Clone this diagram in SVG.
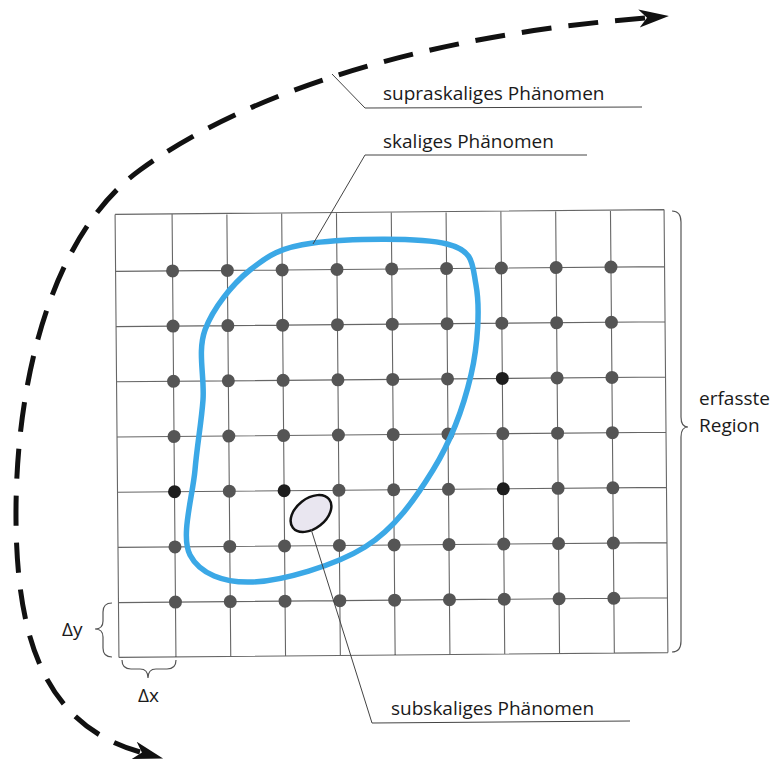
<svg xmlns="http://www.w3.org/2000/svg" width="774" height="766" viewBox="0 0 774 766">
<style>
.grid{fill:none;stroke:#666;stroke-width:1.1}
.dot{fill:#555}
.dk{fill:#1e1e1e}
.lbl{font-family:"Open Sans","Noto Sans",sans-serif;font-size:19px;fill:#1a1a1a}
.lead{fill:none;stroke:#444;stroke-width:1}
.brace{fill:none;stroke:#555;stroke-width:1.2}
</style>
<defs>
<marker id="arr" markerUnits="userSpaceOnUse" markerWidth="40" markerHeight="30" refX="6" refY="9" orient="auto-start-reverse">
<path d="M0,0 L30,9 L0,18 L8,9 z" fill="#111"/>
</marker>
</defs>
<rect width="774" height="766" fill="#fff"/>
<g id="grid" transform="rotate(-0.5 391 433)">
<path class="grid" d="M117,212V655M174,212V655M228.8,212V655M283.6,212V655M338.4,212V655M393.2,212V655M448,212V655M502.8,212V655M557.6,212V655M612.4,212V655M666,212V655M117,212H666M117,269H666M117,324.2H666M117,379.4H666M117,434.6H666M117,489.8H666M117,545H666M117,600.2H666M117,655H666"/>
<g id="dots">
<circle class="dot" cx="174" cy="269" r="6.5"/><circle class="dot" cx="228.8" cy="269" r="6.5"/><circle class="dot" cx="283.6" cy="269" r="6.5"/><circle class="dot" cx="338.4" cy="269" r="6.5"/><circle class="dot" cx="393.2" cy="269" r="6.5"/><circle class="dot" cx="448" cy="269" r="6.5"/><circle class="dot" cx="502.8" cy="269" r="6.5"/><circle class="dot" cx="557.6" cy="269" r="6.5"/><circle class="dot" cx="612.4" cy="269" r="6.5"/>
<circle class="dot" cx="174" cy="324.2" r="6.5"/><circle class="dot" cx="228.8" cy="324.2" r="6.5"/><circle class="dot" cx="283.6" cy="324.2" r="6.5"/><circle class="dot" cx="338.4" cy="324.2" r="6.5"/><circle class="dot" cx="393.2" cy="324.2" r="6.5"/><circle class="dot" cx="448" cy="324.2" r="6.5"/><circle class="dot" cx="502.8" cy="324.2" r="6.5"/><circle class="dot" cx="557.6" cy="324.2" r="6.5"/><circle class="dot" cx="612.4" cy="324.2" r="6.5"/>
<circle class="dot" cx="174" cy="379.4" r="6.5"/><circle class="dot" cx="228.8" cy="379.4" r="6.5"/><circle class="dot" cx="283.6" cy="379.4" r="6.5"/><circle class="dot" cx="338.4" cy="379.4" r="6.5"/><circle class="dot" cx="393.2" cy="379.4" r="6.5"/><circle class="dot" cx="448" cy="379.4" r="6.5"/><circle class="dk" cx="502.8" cy="379.4" r="6.5"/><circle class="dot" cx="557.6" cy="379.4" r="6.5"/><circle class="dot" cx="612.4" cy="379.4" r="6.5"/>
<circle class="dot" cx="174" cy="434.6" r="6.5"/><circle class="dot" cx="228.8" cy="434.6" r="6.5"/><circle class="dot" cx="283.6" cy="434.6" r="6.5"/><circle class="dot" cx="338.4" cy="434.6" r="6.5"/><circle class="dot" cx="393.2" cy="434.6" r="6.5"/><circle class="dot" cx="448" cy="434.6" r="6.5"/><circle class="dot" cx="502.8" cy="434.6" r="6.5"/><circle class="dot" cx="557.6" cy="434.6" r="6.5"/><circle class="dot" cx="612.4" cy="434.6" r="6.5"/>
<circle class="dk" cx="174" cy="489.8" r="6.5"/><circle class="dot" cx="228.8" cy="489.8" r="6.5"/><circle class="dk" cx="283.6" cy="489.8" r="6.5"/><circle class="dot" cx="338.4" cy="489.8" r="6.5"/><circle class="dot" cx="393.2" cy="489.8" r="6.5"/><circle class="dot" cx="448" cy="489.8" r="6.5"/><circle class="dk" cx="502.8" cy="489.8" r="6.5"/><circle class="dot" cx="557.6" cy="489.8" r="6.5"/><circle class="dot" cx="612.4" cy="489.8" r="6.5"/>
<circle class="dot" cx="174" cy="545" r="6.5"/><circle class="dot" cx="228.8" cy="545" r="6.5"/><circle class="dot" cx="283.6" cy="545" r="6.5"/><circle class="dot" cx="338.4" cy="545" r="6.5"/><circle class="dot" cx="393.2" cy="545" r="6.5"/><circle class="dot" cx="448" cy="545" r="6.5"/><circle class="dot" cx="502.8" cy="545" r="6.5"/><circle class="dot" cx="557.6" cy="545" r="6.5"/><circle class="dot" cx="612.4" cy="545" r="6.5"/>
<circle class="dot" cx="174" cy="600.2" r="6.5"/><circle class="dot" cx="228.8" cy="600.2" r="6.5"/><circle class="dot" cx="283.6" cy="600.2" r="6.5"/><circle class="dot" cx="338.4" cy="600.2" r="6.5"/><circle class="dot" cx="393.2" cy="600.2" r="6.5"/><circle class="dot" cx="448" cy="600.2" r="6.5"/><circle class="dot" cx="502.8" cy="600.2" r="6.5"/><circle class="dot" cx="557.6" cy="600.2" r="6.5"/><circle class="dot" cx="612.4" cy="600.2" r="6.5"/>
</g>
</g>
<g id="skaliges">
<path fill="none" stroke="#3ba8e6" stroke-width="5.5" d="M313,243 C345.8,238.7 419.8,237 447,244 C474.2,251 472,263.2 476,285 C480,306.8 478.2,344.2 471,375 C463.8,405.8 450.7,441.3 433,470 C415.3,498.7 395,528.3 365,547 C335,565.7 282.2,580.7 253,582 C223.8,583.3 199.7,573.7 190,555 C180.3,536.3 192.8,495.8 195,470 C197.2,444.2 201.3,423.3 203,400 C204.7,376.7 197.2,351.7 205,330 C212.8,308.3 232,284.5 250,270 C268,255.5 280.2,247.3 313,243 Z"/>
</g>
<g id="subskaliges">
<ellipse cx="311" cy="513.5" rx="23" ry="15" transform="rotate(-38 311 513.5)" fill="#e9e6f0" stroke="#111" stroke-width="2.5"/>
</g>
<g id="connectors">
<path fill="none" stroke="#111" stroke-width="5" stroke-dasharray="30 17" marker-start="url(#arr)" marker-end="url(#arr)" d="M645,18 C430,35 250,90 140,170 C52,234 15,380 16,520 C17,640 45,725 140,752"/>
<path class="lead" d="M332,74 L365,108 L642,107"/>
<path class="lead" d="M313,244 L365,155 L587,155"/>
<path class="lead" d="M311,529 L372,723 L630,721"/>
</g>
<g id="labels">
<text class="lbl" x="383" y="100">supraskaliges Phänomen</text>
<text class="lbl" x="383" y="148">skaliges Phänomen</text>
<text class="lbl" x="391" y="715">subskaliges Phänomen</text>
</g>
<g id="region">
<path class="brace" d="M672,211 Q681,211 681,222 L681,417 Q681,427 688,427 Q681,427 681,437 L681,641 Q681,652 672,652"/>
<text class="lbl" x="699" y="405">erfasste</text>
<text class="lbl" x="699" y="432">Region</text>
</g>
<g id="dy">
<path class="brace" d="M112,603 Q103,603 103,612 L103,621 Q103,629 95,629 Q103,629 103,637 L103,648 Q103,657 112,657"/>
<text class="lbl" x="62" y="636">Δy</text>
</g>
<g id="dx">
<path class="brace" d="M122,660 Q122,669 131,669 L140,669 Q148,669 148,678 Q148,669 156,669 L167,669 Q176,669 176,660"/>
<text class="lbl" x="138" y="702">Δx</text>
</g>
</svg>
